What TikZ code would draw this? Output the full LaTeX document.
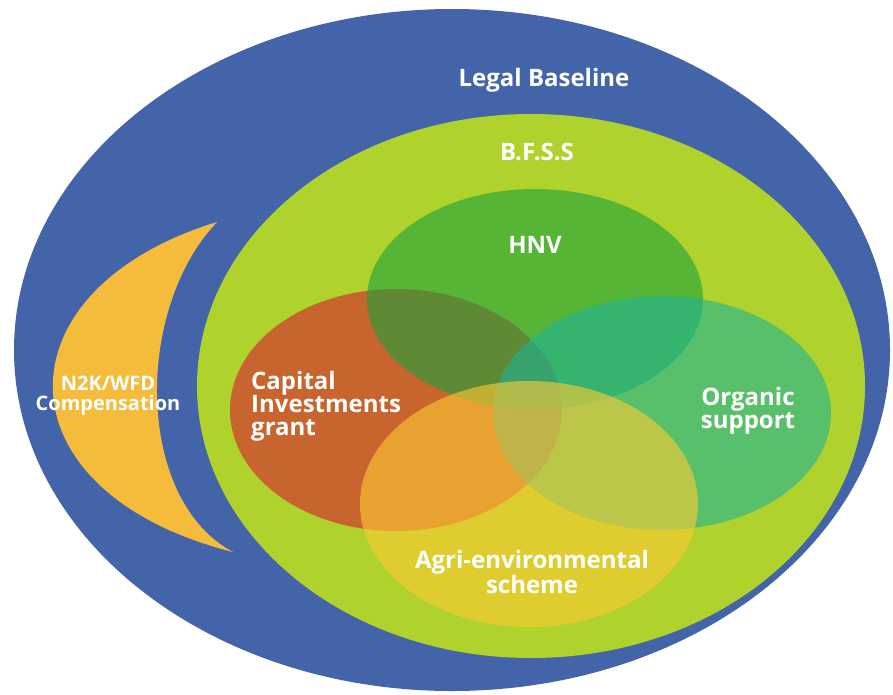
\documentclass[tikz,border=0pt]{standalone}
\usepackage{fontspec}
\setmainfont{Open Sans}
\begin{document}
\definecolor{baseblue}{RGB}{68,100,170}
\definecolor{bfsslime}{RGB}{176,210,44}
\definecolor{hnvgreen}{RGB}{26,163,59}
\definecolor{capbrown}{RGB}{200,100,45}
\definecolor{orggreen}{RGB}{30,180,150}
\definecolor{agriyellow}{RGB}{255,202,51}
\definecolor{moonorange}{RGB}{245,187,58}
\tikzset{
  lbl/.style={text=white, align=center, inner sep=0pt},
  lblmain/.style={lbl, font=\bfseries\fontsize{24}{22.5}\selectfont},
  lblsmall/.style={lbl, font=\bfseries\fontsize{20}{20}\selectfont},
  scheme/.style={fill opacity=0.6},
}
\begin{tikzpicture}[x=1pt,y=-1pt]
\useasboundingbox[fill=white] (0,0) rectangle (893,694);
% outer and inner rings
\fill[baseblue] (452,350) ellipse [x radius=438, y radius=341];
\fill[bfsslime] (531,386) ellipse [x radius=334, y radius=272];
% crescent
\fill[moonorange] (217,222) .. controls (-5,290) and (-4,492) .. (233,552)
  .. controls (135,500) and (134,309) .. (217,222) -- cycle;
% overlapping schemes, painted translucent over each other
\fill[capbrown] (396,410) ellipse [x radius=166, y radius=121];
\fill[hnvgreen, scheme] (535,299) ellipse [x radius=168, y radius=110];
\fill[orggreen, scheme] (662,413) ellipse [x radius=169, y radius=117];
\fill[agriyellow, scheme] (529,504) ellipse [x radius=169, y radius=123];
% labels
\node[lblmain, anchor=base] (legal) at (544,86) {Legal Baseline};
\node[lblmain, anchor=base] (bfss) at (537,160) {B.F.S.S};
\node[lblmain, anchor=base] (hnv) at (535,253) {HNV};
\node[lblmain, align=left, anchor=west] (cap) at (251,406) {Capital\\Investments\\grant};
\node[lblmain] (org) at (748,411) {Organic\\support};
\node[lblmain] (agri) at (532,572) {Agri-environmental\\scheme};
\node[lblsmall] (n2k) at (108,396) {N2K/WFD\\Compensation};
\end{tikzpicture}
\end{document}
